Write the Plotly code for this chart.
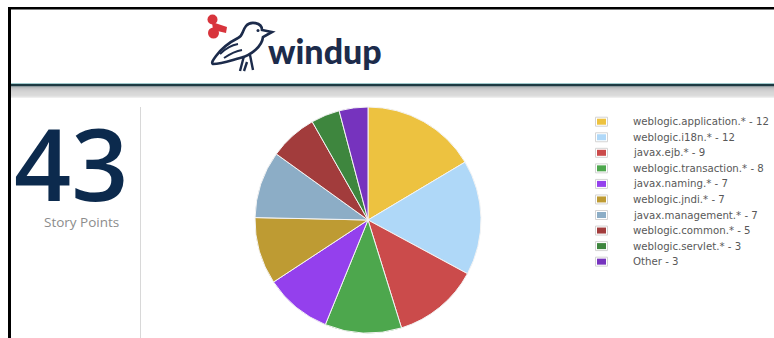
import plotly.graph_objects as go

# ---- data ----
categories = ["weblogic.application.*", "weblogic.i18n.*", "javax.ejb.*",
              "weblogic.transaction.*", "javax.naming.*", "weblogic.jndi.*",
              "javax.management.*", "weblogic.common.*", "weblogic.servlet.*", "Other"]
values = [12, 12, 9, 8, 7, 7, 7, 5, 3, 3]
colors = ["#edc240", "#afd8f8", "#cb4b4b", "#4da74d", "#9440ed",
          "#be9b33", "#8cadc6", "#a23c3c", "#3e863e", "#7633be"]
story_points = 43
story_label = "Story Points"
brand = "windup"

W, H = 774, 338
fig = go.Figure()

# hidden pixel-space axes
fig.update_xaxes(range=[0, W], visible=False, fixedrange=True)
fig.update_yaxes(range=[H, 0], visible=False, fixedrange=True)

# pie
cx, cy, r = 368, 220, 113
fig.add_trace(go.Pie(
    labels=categories, values=values, sort=False, direction="clockwise", rotation=0,
    marker=dict(colors=colors, line=dict(color="#f4f4f4", width=1)),
    textinfo="none", hoverinfo="label+value", showlegend=False,
    domain=dict(x=[(cx - r) / W, (cx + r) / W], y=[1 - (cy + r) / H, 1 - (cy - r) / H]),
))

shapes = []
ann = []

def rect(x0, y0, x1, y1, fill, line=None, lw=0, layer="below"):
    shapes.append(dict(type="rect", xref="x", yref="y", x0=x0, y0=y0, x1=x1, y1=y1,
                       fillcolor=fill, line=dict(color=line or fill, width=lw), layer=layer))

# page frame
rect(8, 7, W, 9.5, "#000000")
rect(8, 7, 11, H, "#000000")
# header separator
rect(11, 83, W, 84, "#9fc9cc")
rect(11, 84, W, 86.5, "#1d3a42")
grays = ["#8f969a", "#a6a9ab", "#b3b4b5", "#bcbcbd", "#c2c2c2", "#c6c6c6",
         "#c9c9c9", "#cbcbcb", "#cdcdcd", "#d2d2d2", "#dedede"]
for i, g in enumerate(grays):
    rect(11, 86.5 + i, W, 87.5 + i, g)
# vertical divider
shapes.append(dict(type="line", xref="x", yref="y", x0=140.5, x1=140.5, y0=107, y1=H,
                   line=dict(color="#d8d8d8", width=1), layer="below"))

# logo: wind-up key
red = "#d8343c"
for (kx, ky, kr) in [(212.5, 19.5, 5), (213.5, 33, 5.5)]:
    shapes.append(dict(type="circle", xref="x", yref="y", x0=kx - kr, x1=kx + kr,
                       y0=ky - kr, y1=ky + kr, fillcolor=red, line=dict(width=0)))
shapes.append(dict(type="path", xref="x", yref="y",
                   path="M 212 22 L 227 27 L 226 33 L 213 30 Z",
                   fillcolor=red, line=dict(width=0)))
# logo: bird
navy = "#1c2b4b"
shapes.append(dict(type="path", xref="x", yref="y",
                   path=("M 262 30 C 262 22 250 21 246 26 C 242 31 243 36 238 38 "
                         "C 230 42 222 48 216 56 C 213 60 211 63 213 64 "
                         "C 222 64 232 60 240 58 C 252 55 262 46 263 37 L 272 32 Z"),
                   fillcolor="#ffffff", line=dict(color=navy, width=2.6)))
shapes.append(dict(type="path", xref="x", yref="y",
                   path="M 220 54 C 226 48 232 45 238 44 M 224 58 C 230 54 236 51 242 50",
                   line=dict(color=navy, width=2)))
shapes.append(dict(type="path", xref="x", yref="y",
                   path="M 244 56 L 240 71 M 250 55 L 253 70 M 247 62 L 244 71",
                   line=dict(color=navy, width=2.4)))
shapes.append(dict(type="circle", xref="x", yref="y", x0=256.5, x1=259.5, y0=29, y1=32,
                   fillcolor=navy, line=dict(width=0)))
ann.append(dict(x=266, y=50, xref="x", yref="y", text=brand, showarrow=False,
                xanchor="left", yanchor="middle",
                font=dict(family="Lato", size=34, color=navy, weight=900)))

# big number
ann.append(dict(x=71, y=162, xref="x", yref="y", text=str(story_points), showarrow=False,
                xanchor="center", yanchor="middle", height=86,
                font=dict(family="Open Sans", size=100, color="#0c2a4d", weight=600)))
ann.append(dict(x=81, y=222, xref="x", yref="y", text=story_label, showarrow=False,
                xanchor="center", yanchor="middle",
                font=dict(family="Open Sans", size=13.5, color="#8c8c8c")))

# legend
ly0, dy = 121.7, 15.55
for i, (c, v, col) in enumerate(zip(categories, values, colors)):
    y = ly0 + i * dy
    rect(595.5, y - 4.5, 607.5, y + 4.5, "#ffffff", "#d4d4d4", 1, layer="above")
    rect(597, y - 3, 606, y + 3, col, layer="above")
    ann.append(dict(x=631, y=y, xref="x", yref="y", text=f"{c} - {v}", showarrow=False,
                    xanchor="left", yanchor="middle",
                    font=dict(family="DejaVu Sans", size=10.2, color="#585858")))

fig.update_layout(
    width=W, height=H, margin=dict(l=0, r=0, t=0, b=0),
    paper_bgcolor="#ffffff", plot_bgcolor="#ffffff",
    shapes=shapes, annotations=ann, showlegend=False,
)
fig.write_html("out.html", config={"displayModeBar": False})
